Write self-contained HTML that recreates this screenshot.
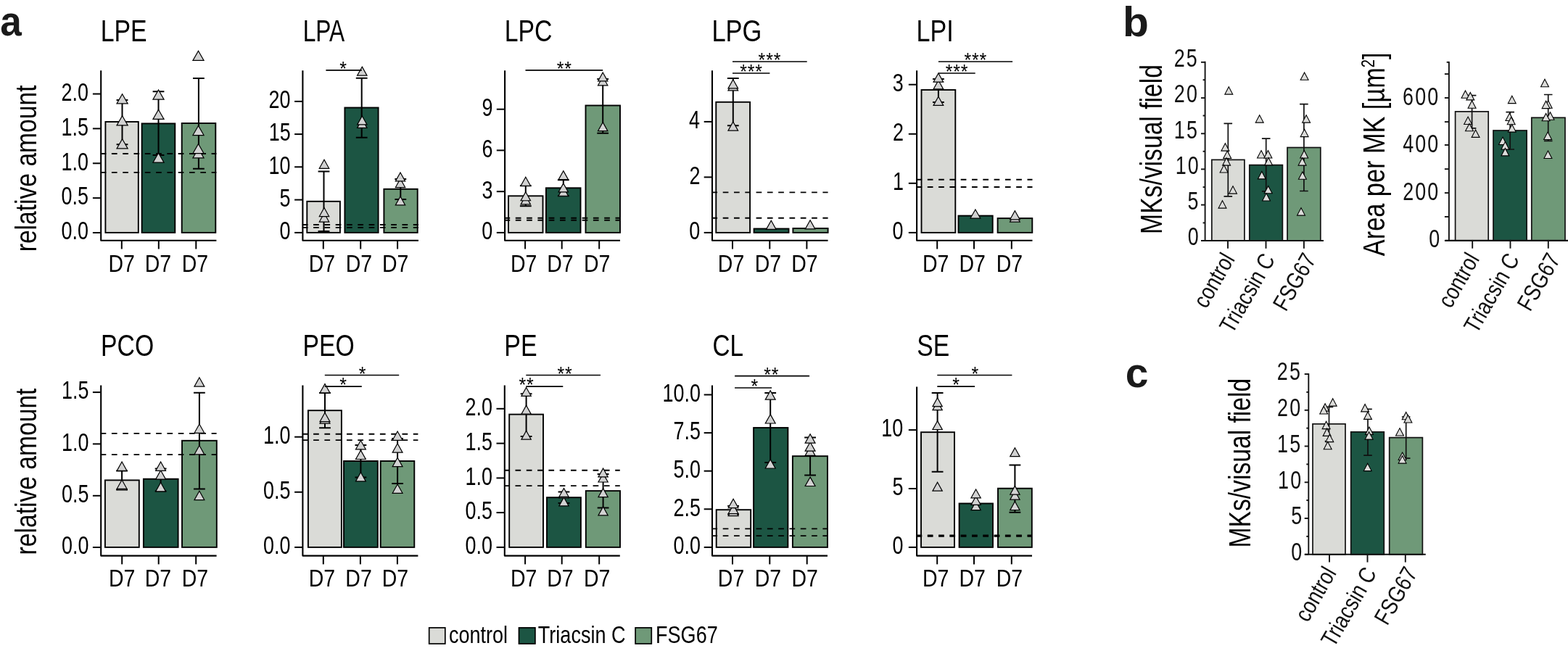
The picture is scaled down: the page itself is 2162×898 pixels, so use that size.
<!DOCTYPE html>
<html lang="en">
<head>
<meta charset="utf-8">
<title>Lipid classes and megakaryocyte counts</title>
<style>
html,body{margin:0;padding:0;background:#fff}
body{width:2162px;height:898px;overflow:hidden}
svg{display:block}
svg text{font-family:"Liberation Sans",sans-serif;stroke:none}
.t{fill:#d2d2d2;stroke:#000;stroke-width:1.2;stroke-linejoin:miter}
.s{fill:#dcdcda;stroke:#000;stroke-width:1.1;stroke-linejoin:miter}
</style>
</head>
<body>
<svg width="2162" height="898" viewBox="0 0 2162 898" stroke="#000" fill="#000">
<g>
<rect x="145.4" y="168" width="45.4" height="152.9" fill="#dadbd7" stroke-width="1.9"/>
<rect x="195.6" y="170.4" width="45.7" height="150.5" fill="#1c5543" stroke-width="1.9"/>
<rect x="250.7" y="170" width="46.6" height="150.9" fill="#6f9978" stroke-width="1.9"/>
<line x1="138.6" y1="212" x2="298.4" y2="212" stroke-width="1.9" stroke-dasharray="7.7 7.6"/>
<line x1="138.6" y1="237.9" x2="298.4" y2="237.9" stroke-width="1.9" stroke-dasharray="7.7 7.6"/>
<path d="M139.2 97.3V331.7H298.4" stroke-width="2.1" fill="none" stroke-linejoin="round"/>
<line x1="127.9" y1="129.55" x2="139.2" y2="129.55" stroke-width="2"/>
<text transform="translate(120.9 138.85) translate(-36.38 0) scale(0.757 1)" font-size="35.6">2.0</text>
<line x1="127.9" y1="177.4" x2="139.2" y2="177.4" stroke-width="2"/>
<text transform="translate(120.9 186.7) translate(-36.38 0) scale(0.757 1)" font-size="35.6">1.5</text>
<line x1="127.9" y1="225.3" x2="139.2" y2="225.3" stroke-width="2"/>
<text transform="translate(120.9 234.6) translate(-36.38 0) scale(0.757 1)" font-size="35.6">1.0</text>
<line x1="127.9" y1="273.15" x2="139.2" y2="273.15" stroke-width="2"/>
<text transform="translate(120.9 282.45) translate(-36.38 0) scale(0.757 1)" font-size="35.6">0.5</text>
<line x1="127.9" y1="321" x2="139.2" y2="321" stroke-width="2"/>
<text transform="translate(120.9 330.3) translate(-36.38 0) scale(0.757 1)" font-size="35.6">0.0</text>
<line x1="167.8" y1="331.7" x2="167.8" y2="343.5" stroke-width="2"/>
<text transform="translate(168.2 374.8) translate(-18.65 0) scale(0.855 1)" font-size="33.3">D7</text>
<line x1="218.8" y1="331.7" x2="218.8" y2="343.5" stroke-width="2"/>
<text transform="translate(218.4 374.8) translate(-18.65 0) scale(0.855 1)" font-size="33.3">D7</text>
<line x1="270.3" y1="331.7" x2="270.3" y2="343.5" stroke-width="2"/>
<text transform="translate(269.4 374.8) translate(-18.65 0) scale(0.855 1)" font-size="33.3">D7</text>
<path d="M160.6 138H176.4M168.5 138V199.2M160.6 199.2H176.4" stroke-width="2" fill="none"/>
<path d="M210.6 126.3H226.4M218.5 126.3V214M210.6 214H226.4" stroke-width="2" fill="none"/>
<path d="M266 108H281.8M273.9 108V232.7M266 232.7H281.8" stroke-width="2" fill="none"/>
<path d="M218.5 211L226.07 224.12L210.93 224.12Z" class="t"/>
<path d="M273.5 204.8L281.07 217.93L265.93 217.93Z" class="t"/>
<path d="M273.5 198.5L281.07 211.62L265.93 211.62Z" class="t"/>
<path d="M168.6 191.8L176.17 204.93L161.03 204.93Z" class="t"/>
<path d="M273.5 173.4L281.07 186.53L265.93 186.53Z" class="t"/>
<path d="M168.6 159.7L176.17 172.83L161.03 172.83Z" class="t"/>
<path d="M218.5 151.3L226.07 164.43L210.93 164.43Z" class="t"/>
<path d="M168.6 129.8L176.17 142.93L161.03 142.93Z" class="t"/>
<path d="M218.5 124L226.07 137.12L210.93 137.12Z" class="t"/>
<path d="M273.5 70.2L281.07 83.33L265.93 83.33Z" class="t"/>
<text transform="translate(141.4 57.3) translate(-2.71 0) scale(0.787 1)" font-size="43">LPE</text>
</g>
<g>
<rect x="423.3" y="277.8" width="45.6" height="43.1" fill="#dadbd7" stroke-width="1.9"/>
<rect x="475.4" y="148.5" width="46.2" height="172.4" fill="#1c5543" stroke-width="1.9"/>
<rect x="529.4" y="260.8" width="46.3" height="60.1" fill="#6f9978" stroke-width="1.9"/>
<line x1="416.8" y1="310" x2="577" y2="310" stroke-width="1.9" stroke-dasharray="7.7 7.6"/>
<line x1="416.8" y1="313.9" x2="577" y2="313.9" stroke-width="1.9" stroke-dasharray="7.7 7.6"/>
<path d="M417.4 97.3V331.7H577" stroke-width="2.1" fill="none" stroke-linejoin="round"/>
<line x1="406.1" y1="139.9" x2="417.4" y2="139.9" stroke-width="2"/>
<text transform="translate(399.5 149.2) translate(-28.97 0) scale(0.757 1)" font-size="35.6">20</text>
<line x1="406.1" y1="185.1" x2="417.4" y2="185.1" stroke-width="2"/>
<text transform="translate(399.5 194.4) translate(-28.84 0) scale(0.757 1)" font-size="35.6">15</text>
<line x1="406.1" y1="230.3" x2="417.4" y2="230.3" stroke-width="2"/>
<text transform="translate(399.5 239.6) translate(-28.97 0) scale(0.757 1)" font-size="35.6">10</text>
<line x1="406.1" y1="275.6" x2="417.4" y2="275.6" stroke-width="2"/>
<text transform="translate(399.5 284.9) translate(-13.88 0) scale(0.757 1)" font-size="35.6">5</text>
<line x1="406.1" y1="320.9" x2="417.4" y2="320.9" stroke-width="2"/>
<text transform="translate(399.5 330.2) translate(-13.88 0) scale(0.757 1)" font-size="35.6">0</text>
<line x1="445.8" y1="331.7" x2="445.8" y2="343.5" stroke-width="2"/>
<text transform="translate(444.3 374.8) translate(-18.65 0) scale(0.855 1)" font-size="33.3">D7</text>
<line x1="497.2" y1="331.7" x2="497.2" y2="343.5" stroke-width="2"/>
<text transform="translate(495.3 374.8) translate(-18.65 0) scale(0.855 1)" font-size="33.3">D7</text>
<line x1="548.1" y1="331.7" x2="548.1" y2="343.5" stroke-width="2"/>
<text transform="translate(545.6 374.8) translate(-18.65 0) scale(0.855 1)" font-size="33.3">D7</text>
<path d="M438.6 236.5H454.4M446.5 236.5V319M438.6 319H454.4" stroke-width="2" fill="none"/>
<path d="M490.8 107.8H506.6M498.7 107.8V189.7M490.8 189.7H506.6" stroke-width="2" fill="none"/>
<path d="M544.4 247H560.2M552.3 247V275M544.4 275H560.2" stroke-width="2" fill="none"/>
<path d="M447 294.03L453.69 306.03L440.31 306.03Z" class="t"/>
<path d="M447 286.53L453.69 298.53L440.31 298.53Z" class="t"/>
<path d="M552 270.93L558.69 282.93L545.31 282.93Z" class="t"/>
<path d="M552 246.53L558.69 258.53L545.31 258.53Z" class="t"/>
<path d="M552 237.93L558.69 249.93L545.31 249.93Z" class="t"/>
<path d="M447 220.33L453.69 232.33L440.31 232.33Z" class="t"/>
<path d="M499.3 164.43L505.99 176.43L492.61 176.43Z" class="t"/>
<path d="M499.3 159.93L505.99 171.93L492.61 171.93Z" class="t"/>
<path d="M499.3 92.13L505.99 104.12L492.61 104.12Z" class="t"/>
<line x1="449.4" y1="96.9" x2="498.8" y2="96.9" stroke-width="1.7"/>
<text transform="translate(473.2 104) translate(-4.83 0) scale(0.93 1)" font-size="27" letter-spacing="0.8">*</text>
<text transform="translate(420.2 57.3) translate(-2.54 0) scale(0.738 1)" font-size="43">LPA</text>
</g>
<g>
<rect x="701" y="270.3" width="47.5" height="50.6" fill="#dadbd7" stroke-width="1.9"/>
<rect x="752.9" y="259.3" width="47.6" height="61.6" fill="#1c5543" stroke-width="1.9"/>
<rect x="807.5" y="145.5" width="47.5" height="175.4" fill="#6f9978" stroke-width="1.9"/>
<line x1="695.5" y1="300.8" x2="855" y2="300.8" stroke-width="1.9" stroke-dasharray="7.7 7.6"/>
<line x1="695.5" y1="303.8" x2="855" y2="303.8" stroke-width="1.9" stroke-dasharray="7.7 7.6"/>
<path d="M696.1 97.3V331.7H855" stroke-width="2.1" fill="none" stroke-linejoin="round"/>
<line x1="684.8" y1="150.7" x2="696.1" y2="150.7" stroke-width="2"/>
<text transform="translate(678.2 160) translate(-13.74 0) scale(0.757 1)" font-size="35.6">9</text>
<line x1="684.8" y1="207.4" x2="696.1" y2="207.4" stroke-width="2"/>
<text transform="translate(678.2 216.7) translate(-13.74 0) scale(0.757 1)" font-size="35.6">6</text>
<line x1="684.8" y1="264.2" x2="696.1" y2="264.2" stroke-width="2"/>
<text transform="translate(678.2 273.5) translate(-13.74 0) scale(0.757 1)" font-size="35.6">3</text>
<line x1="684.8" y1="320.9" x2="696.1" y2="320.9" stroke-width="2"/>
<text transform="translate(678.2 330.2) translate(-13.88 0) scale(0.757 1)" font-size="35.6">0</text>
<line x1="724.1" y1="331.7" x2="724.1" y2="343.5" stroke-width="2"/>
<text transform="translate(722.6 374.8) translate(-18.65 0) scale(0.855 1)" font-size="33.3">D7</text>
<line x1="774.7" y1="331.7" x2="774.7" y2="343.5" stroke-width="2"/>
<text transform="translate(772.8 374.8) translate(-18.65 0) scale(0.855 1)" font-size="33.3">D7</text>
<line x1="826.2" y1="331.7" x2="826.2" y2="343.5" stroke-width="2"/>
<text transform="translate(823.7 374.8) translate(-18.65 0) scale(0.855 1)" font-size="33.3">D7</text>
<path d="M716.9 256.3H732.7M724.8 256.3V284.3M716.9 284.3H732.7" stroke-width="2" fill="none"/>
<path d="M768.9 248.3H784.7M776.8 248.3V270.3M768.9 270.3H784.7" stroke-width="2" fill="none"/>
<path d="M823.3 108.9H839.1M831.2 108.9V183.8M823.3 183.8H839.1" stroke-width="2" fill="none"/>
<path d="M724.8 269.93L731.49 281.93L718.11 281.93Z" class="t"/>
<path d="M724.8 264.73L731.49 276.73L718.11 276.73Z" class="t"/>
<path d="M776.8 258.23L783.49 270.23L770.11 270.23Z" class="t"/>
<path d="M776.8 252.93L783.49 264.93L770.11 264.93Z" class="t"/>
<path d="M724.8 244.23L731.49 256.23L718.11 256.23Z" class="t"/>
<path d="M776.8 235.63L783.49 247.62L770.11 247.62Z" class="t"/>
<path d="M831.2 168.63L837.89 180.62L824.51 180.62Z" class="t"/>
<path d="M831.2 105.83L837.89 117.83L824.51 117.83Z" class="t"/>
<path d="M831.2 99.93L837.89 111.92L824.51 111.92Z" class="t"/>
<line x1="724.5" y1="96.9" x2="831.2" y2="96.9" stroke-width="1.7"/>
<text transform="translate(777.8 104) translate(-10.11 0) scale(0.93 1)" font-size="27" letter-spacing="0.8">**</text>
<text transform="translate(698.4 57.3) translate(-2.7 0) scale(0.786 1)" font-size="43">LPC</text>
</g>
<g>
<rect x="987.3" y="140.8" width="46.8" height="180.1" fill="#dadbd7" stroke-width="1.9"/>
<rect x="1039.6" y="315.5" width="47.9" height="5.4" fill="#1c5543" stroke-width="1.9"/>
<rect x="1093.4" y="315" width="48.2" height="5.9" fill="#6f9978" stroke-width="1.9"/>
<line x1="981.4" y1="265.4" x2="1141.6" y2="265.4" stroke-width="1.9" stroke-dasharray="7.7 7.6"/>
<line x1="981.4" y1="300.7" x2="1141.6" y2="300.7" stroke-width="1.9" stroke-dasharray="7.7 7.6"/>
<path d="M982 97.3V331.7H1141.6" stroke-width="2.1" fill="none" stroke-linejoin="round"/>
<line x1="970.7" y1="167.9" x2="982" y2="167.9" stroke-width="2"/>
<text transform="translate(964.1 177.2) translate(-14.15 0) scale(0.757 1)" font-size="35.6">4</text>
<line x1="970.7" y1="244.4" x2="982" y2="244.4" stroke-width="2"/>
<text transform="translate(964.1 253.7) translate(-13.61 0) scale(0.757 1)" font-size="35.6">2</text>
<line x1="970.7" y1="320.9" x2="982" y2="320.9" stroke-width="2"/>
<text transform="translate(964.1 330.2) translate(-13.88 0) scale(0.757 1)" font-size="35.6">0</text>
<line x1="1010" y1="331.7" x2="1010" y2="343.5" stroke-width="2"/>
<text transform="translate(1008.5 374.8) translate(-18.65 0) scale(0.855 1)" font-size="33.3">D7</text>
<line x1="1061.3" y1="331.7" x2="1061.3" y2="343.5" stroke-width="2"/>
<text transform="translate(1059.4 374.8) translate(-18.65 0) scale(0.855 1)" font-size="33.3">D7</text>
<line x1="1112.4" y1="331.7" x2="1112.4" y2="343.5" stroke-width="2"/>
<text transform="translate(1109.9 374.8) translate(-18.65 0) scale(0.855 1)" font-size="33.3">D7</text>
<path d="M1002.9 108.1H1018.7M1010.8 108.1V173.3M1002.9 173.3H1018.7" stroke-width="2" fill="none"/>
<path d="M1063.3 304.32L1070.13 316.43L1056.47 316.43Z" class="t"/>
<path d="M1117.1 303.82L1123.93 315.93L1110.27 315.93Z" class="t"/>
<path d="M1010.8 168.02L1017.63 180.12L1003.97 180.12Z" class="t"/>
<path d="M1010.8 112.82L1017.63 124.92L1003.97 124.92Z" class="t"/>
<path d="M1010.8 109.82L1017.63 121.92L1003.97 121.92Z" class="t"/>
<line x1="1010" y1="85" x2="1112.7" y2="85" stroke-width="1.7"/>
<text transform="translate(1061 92.1) translate(-15.38 0) scale(0.93 1)" font-size="27" letter-spacing="0.8">***</text>
<line x1="1010" y1="101" x2="1061.4" y2="101" stroke-width="1.7"/>
<text transform="translate(1035.6 108.1) translate(-15.38 0) scale(0.93 1)" font-size="27" letter-spacing="0.8">***</text>
<text transform="translate(984.2 57.3) translate(-2.76 0) scale(0.802 1)" font-size="43">LPG</text>
</g>
<g>
<rect x="1270.5" y="124" width="46.8" height="196.9" fill="#dadbd7" stroke-width="1.9"/>
<rect x="1321.5" y="297.6" width="47.2" height="23.3" fill="#1c5543" stroke-width="1.9"/>
<rect x="1375.6" y="301.1" width="47.7" height="19.8" fill="#6f9978" stroke-width="1.9"/>
<line x1="1263.5" y1="247.7" x2="1423.5" y2="247.7" stroke-width="1.9" stroke-dasharray="7.7 7.6"/>
<line x1="1263.5" y1="258" x2="1423.5" y2="258" stroke-width="1.9" stroke-dasharray="7.7 7.6"/>
<path d="M1264.1 97.3V331.7H1423.5" stroke-width="2.1" fill="none" stroke-linejoin="round"/>
<line x1="1252.8" y1="116.7" x2="1264.1" y2="116.7" stroke-width="2"/>
<text transform="translate(1244.5 126) translate(-13.74 0) scale(0.757 1)" font-size="35.6">3</text>
<line x1="1252.8" y1="184.8" x2="1264.1" y2="184.8" stroke-width="2"/>
<text transform="translate(1244.5 194.1) translate(-13.61 0) scale(0.757 1)" font-size="35.6">2</text>
<line x1="1252.8" y1="252.8" x2="1264.1" y2="252.8" stroke-width="2"/>
<text transform="translate(1244.5 262.1) translate(-13.61 0) scale(0.757 1)" font-size="35.6">1</text>
<line x1="1252.8" y1="320.9" x2="1264.1" y2="320.9" stroke-width="2"/>
<text transform="translate(1244.5 330.2) translate(-13.88 0) scale(0.757 1)" font-size="35.6">0</text>
<line x1="1292.2" y1="331.7" x2="1292.2" y2="343.5" stroke-width="2"/>
<text transform="translate(1290.7 374.8) translate(-18.65 0) scale(0.855 1)" font-size="33.3">D7</text>
<line x1="1343" y1="331.7" x2="1343" y2="343.5" stroke-width="2"/>
<text transform="translate(1341.1 374.8) translate(-18.65 0) scale(0.855 1)" font-size="33.3">D7</text>
<line x1="1394.8" y1="331.7" x2="1394.8" y2="343.5" stroke-width="2"/>
<text transform="translate(1392.3 374.8) translate(-18.65 0) scale(0.855 1)" font-size="33.3">D7</text>
<path d="M1286 108.9H1301.8M1293.9 108.9V141M1286 141H1301.8" stroke-width="2" fill="none"/>
<path d="M1399.4 293.92L1406.23 306.03L1392.57 306.03Z" class="t"/>
<path d="M1399.4 290.82L1406.23 302.93L1392.57 302.93Z" class="t"/>
<path d="M1344.9 288.92L1351.73 301.03L1338.07 301.03Z" class="t"/>
<path d="M1293.9 133.32L1300.73 145.43L1287.07 145.43Z" class="t"/>
<path d="M1293.9 110.82L1300.73 122.92L1287.07 122.92Z" class="t"/>
<path d="M1293.9 101.02L1300.73 113.12L1287.07 113.12Z" class="t"/>
<line x1="1293.9" y1="85" x2="1396.1" y2="85" stroke-width="1.7"/>
<text transform="translate(1344.9 92.1) translate(-15.38 0) scale(0.93 1)" font-size="27" letter-spacing="0.8">***</text>
<line x1="1293.9" y1="101" x2="1344.7" y2="101" stroke-width="1.7"/>
<text transform="translate(1319.1 108.1) translate(-15.38 0) scale(0.93 1)" font-size="27" letter-spacing="0.8">***</text>
<text transform="translate(1266.2 57.3) translate(-2.73 0) scale(0.793 1)" font-size="43">LPI</text>
</g>
<g>
<rect x="144.9" y="662.4" width="46.9" height="92.5" fill="#dadbd7" stroke-width="1.9"/>
<rect x="197.9" y="660.7" width="47.7" height="94.2" fill="#1c5543" stroke-width="1.9"/>
<rect x="251" y="607.8" width="47.8" height="147.1" fill="#6f9978" stroke-width="1.9"/>
<line x1="138.6" y1="597.9" x2="298.6" y2="597.9" stroke-width="1.9" stroke-dasharray="7.7 7.6"/>
<line x1="138.6" y1="627.1" x2="298.6" y2="627.1" stroke-width="1.9" stroke-dasharray="7.7 7.6"/>
<path d="M139.2 531.4V766.6H298.6" stroke-width="2.1" fill="none" stroke-linejoin="round"/>
<line x1="127.9" y1="541.1" x2="139.2" y2="541.1" stroke-width="2"/>
<text transform="translate(121.3 550.4) translate(-36.38 0) scale(0.757 1)" font-size="35.6">1.5</text>
<line x1="127.9" y1="612.4" x2="139.2" y2="612.4" stroke-width="2"/>
<text transform="translate(121.3 621.7) translate(-36.38 0) scale(0.757 1)" font-size="35.6">1.0</text>
<line x1="127.9" y1="683.8" x2="139.2" y2="683.8" stroke-width="2"/>
<text transform="translate(121.3 693.1) translate(-36.38 0) scale(0.757 1)" font-size="35.6">0.5</text>
<line x1="127.9" y1="755" x2="139.2" y2="755" stroke-width="2"/>
<text transform="translate(121.3 764.3) translate(-36.38 0) scale(0.757 1)" font-size="35.6">0.0</text>
<line x1="168.2" y1="766.6" x2="168.2" y2="778.4" stroke-width="2"/>
<text transform="translate(168.6 809.4) translate(-18.65 0) scale(0.855 1)" font-size="33.3">D7</text>
<line x1="218.7" y1="766.6" x2="218.7" y2="778.4" stroke-width="2"/>
<text transform="translate(218.3 809.4) translate(-18.65 0) scale(0.855 1)" font-size="33.3">D7</text>
<line x1="270.2" y1="766.6" x2="270.2" y2="778.4" stroke-width="2"/>
<text transform="translate(269.3 809.4) translate(-18.65 0) scale(0.855 1)" font-size="33.3">D7</text>
<path d="M160.2 649.6H176M168.1 649.6V675.2M160.2 675.2H176" stroke-width="2" fill="none"/>
<path d="M213.7 646.4H229.5M221.6 646.4V677.4M213.7 677.4H229.5" stroke-width="2" fill="none"/>
<path d="M267 541.8H282.8M274.9 541.8V674.4M267 674.4H282.8" stroke-width="2" fill="none"/>
<path d="M274.9 677.23L281.83 689.62L267.97 689.62Z" class="t"/>
<path d="M221.6 665.53L228.53 677.92L214.67 677.92Z" class="t"/>
<path d="M168.1 663.53L175.03 675.92L161.17 675.92Z" class="t"/>
<path d="M168.1 661.93L175.03 674.32L161.17 674.32Z" class="t"/>
<path d="M221.6 648.73L228.53 661.12L214.67 661.12Z" class="t"/>
<path d="M168.1 637.03L175.03 649.42L161.17 649.42Z" class="t"/>
<path d="M221.6 637.03L228.53 649.42L214.67 649.42Z" class="t"/>
<path d="M274.9 614.53L281.83 626.92L267.97 626.92Z" class="t"/>
<path d="M274.9 584.93L281.83 597.32L267.97 597.32Z" class="t"/>
<path d="M274.9 520.73L281.83 533.12L267.97 533.12Z" class="t"/>
<text transform="translate(141.8 491.2) translate(-2.7 0) scale(0.785 1)" font-size="43">PCO</text>
</g>
<g>
<rect x="424.9" y="566.2" width="46" height="188.7" fill="#dadbd7" stroke-width="1.9"/>
<rect x="474" y="636" width="46.8" height="118.9" fill="#1c5543" stroke-width="1.9"/>
<rect x="524.7" y="636" width="46.6" height="118.9" fill="#6f9978" stroke-width="1.9"/>
<line x1="416.8" y1="598.8" x2="576.4" y2="598.8" stroke-width="1.9" stroke-dasharray="7.7 7.6"/>
<line x1="416.8" y1="607.1" x2="576.4" y2="607.1" stroke-width="1.9" stroke-dasharray="7.7 7.6"/>
<path d="M417.4 531.4V766.6H576.4" stroke-width="2.1" fill="none" stroke-linejoin="round"/>
<line x1="406.1" y1="602.7" x2="417.4" y2="602.7" stroke-width="2"/>
<text transform="translate(399.5 612) translate(-36.38 0) scale(0.757 1)" font-size="35.6">1.0</text>
<line x1="406.1" y1="678.8" x2="417.4" y2="678.8" stroke-width="2"/>
<text transform="translate(399.5 688.1) translate(-36.38 0) scale(0.757 1)" font-size="35.6">0.5</text>
<line x1="406.1" y1="754.9" x2="417.4" y2="754.9" stroke-width="2"/>
<text transform="translate(399.5 764.2) translate(-36.38 0) scale(0.757 1)" font-size="35.6">0.0</text>
<line x1="445.8" y1="766.6" x2="445.8" y2="778.4" stroke-width="2"/>
<text transform="translate(444.3 809.4) translate(-18.65 0) scale(0.855 1)" font-size="33.3">D7</text>
<line x1="496.9" y1="766.6" x2="496.9" y2="778.4" stroke-width="2"/>
<text transform="translate(495 809.4) translate(-18.65 0) scale(0.855 1)" font-size="33.3">D7</text>
<line x1="547.9" y1="766.6" x2="547.9" y2="778.4" stroke-width="2"/>
<text transform="translate(545.4 809.4) translate(-18.65 0) scale(0.855 1)" font-size="33.3">D7</text>
<path d="M440.1 542.1H455.9M448 542.1V590.3M440.1 590.3H455.9" stroke-width="2" fill="none"/>
<path d="M489.5 614.1H505.3M497.4 614.1V658.6M489.5 658.6H505.3" stroke-width="2" fill="none"/>
<path d="M540.2 605.1H556M548.1 605.1V667.1M540.2 667.1H556" stroke-width="2" fill="none"/>
<path d="M548.1 667.93L555.03 680.32L541.17 680.32Z" class="t"/>
<path d="M497.4 651.53L504.33 663.92L490.47 663.92Z" class="t"/>
<path d="M548.1 631.23L555.03 643.62L541.17 643.62Z" class="t"/>
<path d="M497.4 621.13L504.33 633.52L490.47 633.52Z" class="t"/>
<path d="M548.1 611.83L555.03 624.22L541.17 624.22Z" class="t"/>
<path d="M497.4 607.43L504.33 619.82L490.47 619.82Z" class="t"/>
<path d="M548.1 594.93L555.03 607.32L541.17 607.32Z" class="t"/>
<path d="M448 571.83L454.93 584.22L441.07 584.22Z" class="t"/>
<path d="M448 569.23L454.93 581.62L441.07 581.62Z" class="t"/>
<path d="M448 529.53L454.93 541.92L441.07 541.92Z" class="t"/>
<line x1="447.8" y1="517.5" x2="550.2" y2="517.5" stroke-width="1.7"/>
<text transform="translate(499.6 524.6) translate(-4.83 0) scale(0.93 1)" font-size="27" letter-spacing="0.8">*</text>
<line x1="447.8" y1="533.1" x2="498.8" y2="533.1" stroke-width="1.7"/>
<text transform="translate(473.1 540.2) translate(-4.83 0) scale(0.93 1)" font-size="27" letter-spacing="0.8">*</text>
<text transform="translate(420.2 491.2) translate(-2.7 0) scale(0.785 1)" font-size="43">PEO</text>
</g>
<g>
<rect x="702.2" y="571.6" width="46.8" height="183.3" fill="#dadbd7" stroke-width="1.9"/>
<rect x="754" y="686.2" width="46.9" height="68.7" fill="#1c5543" stroke-width="1.9"/>
<rect x="807.8" y="677.1" width="47.2" height="77.8" fill="#6f9978" stroke-width="1.9"/>
<line x1="695.2" y1="648.7" x2="854.8" y2="648.7" stroke-width="1.9" stroke-dasharray="7.7 7.6"/>
<line x1="695.2" y1="670.1" x2="854.8" y2="670.1" stroke-width="1.9" stroke-dasharray="7.7 7.6"/>
<path d="M695.8 531.4V766.6H854.8" stroke-width="2.1" fill="none" stroke-linejoin="round"/>
<line x1="684.5" y1="563.8" x2="695.8" y2="563.8" stroke-width="2"/>
<text transform="translate(677.9 573.1) translate(-36.38 0) scale(0.757 1)" font-size="35.6">2.0</text>
<line x1="684.5" y1="611.6" x2="695.8" y2="611.6" stroke-width="2"/>
<text transform="translate(677.9 620.9) translate(-36.38 0) scale(0.757 1)" font-size="35.6">1.5</text>
<line x1="684.5" y1="659.4" x2="695.8" y2="659.4" stroke-width="2"/>
<text transform="translate(677.9 668.7) translate(-36.38 0) scale(0.757 1)" font-size="35.6">1.0</text>
<line x1="684.5" y1="707.1" x2="695.8" y2="707.1" stroke-width="2"/>
<text transform="translate(677.9 716.4) translate(-36.38 0) scale(0.757 1)" font-size="35.6">0.5</text>
<line x1="684.5" y1="754.9" x2="695.8" y2="754.9" stroke-width="2"/>
<text transform="translate(677.9 764.2) translate(-36.38 0) scale(0.757 1)" font-size="35.6">0.0</text>
<line x1="724.1" y1="766.6" x2="724.1" y2="778.4" stroke-width="2"/>
<text transform="translate(722.6 809.4) translate(-18.65 0) scale(0.855 1)" font-size="33.3">D7</text>
<line x1="774.7" y1="766.6" x2="774.7" y2="778.4" stroke-width="2"/>
<text transform="translate(772.8 809.4) translate(-18.65 0) scale(0.855 1)" font-size="33.3">D7</text>
<line x1="826.2" y1="766.6" x2="826.2" y2="778.4" stroke-width="2"/>
<text transform="translate(823.7 809.4) translate(-18.65 0) scale(0.855 1)" font-size="33.3">D7</text>
<path d="M717.7 543.2H733.5M725.6 543.2V602M717.7 602H733.5" stroke-width="2" fill="none"/>
<path d="M769.6 678.4H785.4M777.5 678.4V694M769.6 694H785.4" stroke-width="2" fill="none"/>
<path d="M823.7 653.9H839.5M831.6 653.9V700.6M823.7 700.6H839.5" stroke-width="2" fill="none"/>
<path d="M831.6 699.03L838.24 710.92L824.96 710.92Z" class="t"/>
<path d="M777.5 686.03L784.14 697.92L770.86 697.92Z" class="t"/>
<path d="M777.5 675.03L784.14 686.92L770.86 686.92Z" class="t"/>
<path d="M831.6 673.83L838.24 685.72L824.96 685.72Z" class="t"/>
<path d="M777.5 673.43L784.14 685.32L770.86 685.32Z" class="t"/>
<path d="M831.6 653.13L838.24 665.02L824.96 665.02Z" class="t"/>
<path d="M831.6 646.03L838.24 657.92L824.96 657.92Z" class="t"/>
<path d="M725.6 594.23L732.24 606.12L718.96 606.12Z" class="t"/>
<path d="M725.6 559.33L732.24 571.22L718.96 571.22Z" class="t"/>
<path d="M725.6 534.43L732.24 546.32L718.96 546.32Z" class="t"/>
<line x1="725.3" y1="517.5" x2="828" y2="517.5" stroke-width="1.7"/>
<text transform="translate(778.6 524.6) translate(-10.11 0) scale(0.93 1)" font-size="27" letter-spacing="0.8">**</text>
<line x1="725.3" y1="533.1" x2="776.3" y2="533.1" stroke-width="1.7"/>
<text transform="translate(725.6 540.2) translate(-10.11 0) scale(0.93 1)" font-size="27" letter-spacing="0.8">**</text>
<text transform="translate(698 491.2) translate(-2.72 0) scale(0.79 1)" font-size="43">PE</text>
</g>
<g>
<rect x="987.7" y="703.2" width="47.5" height="51.7" fill="#dadbd7" stroke-width="1.9"/>
<rect x="1039.1" y="590" width="47.3" height="164.9" fill="#1c5543" stroke-width="1.9"/>
<rect x="1092.9" y="629.2" width="48.1" height="125.7" fill="#6f9978" stroke-width="1.9"/>
<line x1="981.4" y1="729.4" x2="1141" y2="729.4" stroke-width="1.9" stroke-dasharray="7.7 7.6"/>
<line x1="981.4" y1="739.1" x2="1141" y2="739.1" stroke-width="1.9" stroke-dasharray="7.7 7.6"/>
<path d="M982 531.4V766.6H1141" stroke-width="2.1" fill="none" stroke-linejoin="round"/>
<line x1="970.7" y1="544.5" x2="982" y2="544.5" stroke-width="2"/>
<text transform="translate(964.8 553.8) translate(-51.34 0) scale(0.757 1)" font-size="35.6">10.0</text>
<line x1="970.7" y1="597.1" x2="982" y2="597.1" stroke-width="2"/>
<text transform="translate(964.8 606.4) translate(-36.38 0) scale(0.757 1)" font-size="35.6">7.5</text>
<line x1="970.7" y1="649.7" x2="982" y2="649.7" stroke-width="2"/>
<text transform="translate(964.8 659) translate(-36.38 0) scale(0.757 1)" font-size="35.6">5.0</text>
<line x1="970.7" y1="702.3" x2="982" y2="702.3" stroke-width="2"/>
<text transform="translate(964.8 711.6) translate(-36.38 0) scale(0.757 1)" font-size="35.6">2.5</text>
<line x1="970.7" y1="754.9" x2="982" y2="754.9" stroke-width="2"/>
<text transform="translate(964.8 764.2) translate(-36.38 0) scale(0.757 1)" font-size="35.6">0.0</text>
<line x1="1010" y1="766.6" x2="1010" y2="778.4" stroke-width="2"/>
<text transform="translate(1008.5 809.4) translate(-18.65 0) scale(0.855 1)" font-size="33.3">D7</text>
<line x1="1061.3" y1="766.6" x2="1061.3" y2="778.4" stroke-width="2"/>
<text transform="translate(1059.4 809.4) translate(-18.65 0) scale(0.855 1)" font-size="33.3">D7</text>
<line x1="1112.7" y1="766.6" x2="1112.7" y2="778.4" stroke-width="2"/>
<text transform="translate(1110.2 809.4) translate(-18.65 0) scale(0.855 1)" font-size="33.3">D7</text>
<path d="M1003.2 698H1019M1011.1 698V709.5M1003.2 709.5H1019" stroke-width="2" fill="none"/>
<path d="M1054.3 542H1070.1M1062.2 542V638.1M1054.3 638.1H1070.1" stroke-width="2" fill="none"/>
<path d="M1109.2 603.5H1125M1117.1 603.5V655.4M1109.2 655.4H1125" stroke-width="2" fill="none"/>
<path d="M1011.1 699.33L1018.03 711.72L1004.17 711.72Z" class="t"/>
<path d="M1011.1 696.23L1018.03 708.62L1004.17 708.62Z" class="t"/>
<path d="M1011.1 688.23L1018.03 700.62L1004.17 700.62Z" class="t"/>
<path d="M1117.1 658.13L1124.03 670.52L1110.17 670.52Z" class="t"/>
<path d="M1062.2 633.63L1069.13 646.02L1055.27 646.02Z" class="t"/>
<path d="M1117.1 616.03L1124.03 628.42L1110.17 628.42Z" class="t"/>
<path d="M1117.1 609.73L1124.03 622.12L1110.17 622.12Z" class="t"/>
<path d="M1117.1 598.83L1124.03 611.22L1110.17 611.22Z" class="t"/>
<path d="M1062.2 571.63L1069.13 584.02L1055.27 584.02Z" class="t"/>
<path d="M1062.2 538.83L1069.13 551.22L1055.27 551.22Z" class="t"/>
<line x1="1013.1" y1="518.6" x2="1116.1" y2="518.6" stroke-width="1.7"/>
<text transform="translate(1063.3 525.7) translate(-10.11 0) scale(0.93 1)" font-size="27" letter-spacing="0.8">**</text>
<line x1="1013.1" y1="535" x2="1064.1" y2="535" stroke-width="1.7"/>
<text transform="translate(1040.4 542.1) translate(-4.83 0) scale(0.93 1)" font-size="27" letter-spacing="0.8">*</text>
<text transform="translate(984.2 491.2) translate(-1.66 0) scale(0.773 1)" font-size="43">CL</text>
</g>
<g>
<rect x="1270" y="596.2" width="46" height="158.7" fill="#dadbd7" stroke-width="1.9"/>
<rect x="1322.6" y="694.5" width="46.4" height="60.4" fill="#1c5543" stroke-width="1.9"/>
<rect x="1376" y="673.7" width="46.8" height="81.2" fill="#6f9978" stroke-width="1.9"/>
<line x1="1263.5" y1="738.5" x2="1423" y2="738.5" stroke-width="1.9" stroke-dasharray="7.7 7.6"/>
<line x1="1263.5" y1="739.8" x2="1423" y2="739.8" stroke-width="1.9" stroke-dasharray="7.7 7.6"/>
<path d="M1264.1 533.5V766.6H1423" stroke-width="2.1" fill="none" stroke-linejoin="round"/>
<line x1="1252.8" y1="593.1" x2="1264.1" y2="593.1" stroke-width="2"/>
<text transform="translate(1244.3 602.4) translate(-28.97 0) scale(0.757 1)" font-size="35.6">10</text>
<line x1="1252.8" y1="674" x2="1264.1" y2="674" stroke-width="2"/>
<text transform="translate(1244.3 683.3) translate(-13.88 0) scale(0.757 1)" font-size="35.6">5</text>
<line x1="1252.8" y1="754.9" x2="1264.1" y2="754.9" stroke-width="2"/>
<text transform="translate(1244.3 764.2) translate(-13.88 0) scale(0.757 1)" font-size="35.6">0</text>
<line x1="1292.2" y1="766.6" x2="1292.2" y2="778.4" stroke-width="2"/>
<text transform="translate(1290.7 809.4) translate(-18.65 0) scale(0.855 1)" font-size="33.3">D7</text>
<line x1="1343" y1="766.6" x2="1343" y2="778.4" stroke-width="2"/>
<text transform="translate(1341.1 809.4) translate(-18.65 0) scale(0.855 1)" font-size="33.3">D7</text>
<line x1="1394.8" y1="766.6" x2="1394.8" y2="778.4" stroke-width="2"/>
<text transform="translate(1392.3 809.4) translate(-18.65 0) scale(0.855 1)" font-size="33.3">D7</text>
<path d="M1284.7 542H1300.5M1292.6 542V650.8M1284.7 650.8H1300.5" stroke-width="2" fill="none"/>
<path d="M1391.5 641.4H1407.3M1399.4 641.4V706.7M1391.5 706.7H1407.3" stroke-width="2" fill="none"/>
<path d="M1345.6 691.83L1352.24 703.72L1338.96 703.72Z" class="t"/>
<path d="M1399.4 691.83L1406.04 703.72L1392.76 703.72Z" class="t"/>
<path d="M1345.6 684.53L1352.24 696.42L1338.96 696.42Z" class="t"/>
<path d="M1399.4 677.33L1406.04 689.22L1392.76 689.22Z" class="t"/>
<path d="M1345.6 674.93L1352.24 686.82L1338.96 686.82Z" class="t"/>
<path d="M1399.4 670.33L1406.04 682.22L1392.76 682.22Z" class="t"/>
<path d="M1292.6 665.33L1299.24 677.22L1285.96 677.22Z" class="t"/>
<path d="M1399.4 617.73L1406.04 629.62L1392.76 629.62Z" class="t"/>
<path d="M1292.6 580.63L1299.24 592.52L1285.96 592.52Z" class="t"/>
<path d="M1292.6 553.73L1299.24 565.62L1285.96 565.62Z" class="t"/>
<path d="M1292.6 548.73L1299.24 560.62L1285.96 560.62Z" class="t"/>
<line x1="1292.3" y1="517.5" x2="1395.4" y2="517.5" stroke-width="1.7"/>
<text transform="translate(1344.4 524.6) translate(-4.83 0) scale(0.93 1)" font-size="27" letter-spacing="0.8">*</text>
<line x1="1292.3" y1="533.1" x2="1344.1" y2="533.1" stroke-width="1.7"/>
<text transform="translate(1318 540.2) translate(-4.83 0) scale(0.93 1)" font-size="27" letter-spacing="0.8">*</text>
<text transform="translate(1265.7 491.2) translate(-1.52 0) scale(0.784 1)" font-size="43">SE</text>
</g>
<text transform="translate(50.2 345.1) rotate(-90) translate(-2.19 0) scale(0.82 1)" font-size="41">relative amount</text>
<text transform="translate(50.2 763.2) rotate(-90) translate(-2.19 0) scale(0.82 1)" font-size="41">relative amount</text>
<text transform="translate(1.9 49.2) translate(-1.6 0) scale(0.925 1)" font-size="57.5" font-weight="bold" fill="#1a1a1a">a</text>
<text transform="translate(1551.9 49.6) translate(-3.82 0) scale(1.03 1)" font-size="57" font-weight="bold" fill="#1a1a1a">b</text>
<text transform="translate(1554.1 534.3) translate(-2.28 0) scale(1 1)" font-size="57" font-weight="bold" fill="#1a1a1a">c</text>
<rect x="591.7" y="865.9" width="22.1" height="22.1" fill="#dadbd7" stroke-width="1.7"/>
<text transform="translate(620.1 886.5) translate(-1.22 0) scale(0.82 1)" font-size="33">control</text>
<rect x="715.5" y="865.9" width="22.4" height="22.1" fill="#1c5543" stroke-width="1.7"/>
<text transform="translate(742.5 886.5) translate(-0.68 0) scale(0.82 1)" font-size="33">Triacsin C</text>
<rect x="876.1" y="865.9" width="22.2" height="22.1" fill="#6f9978" stroke-width="1.7"/>
<text transform="translate(906.2 886.5) translate(-2.16 0) scale(0.82 1)" font-size="33">FSG67</text>
<g stroke="#111">
<rect x="1670.8" y="220.4" width="45.1" height="111.6" fill="#dadbd7" stroke-width="1.7"/>
<rect x="1722.8" y="227.6" width="45.6" height="104.4" fill="#1c5543" stroke-width="1.7"/>
<rect x="1775" y="203.5" width="45.8" height="128.5" fill="#6f9978" stroke-width="1.7"/>
<path d="M1687.5 170.3H1699.1M1693.3 170.3V270.9M1687.5 270.9H1699.1" stroke-width="1.7" fill="none"/>
<path d="M1739.9 191.1H1751.5M1745.7 191.1V263.9M1739.9 263.9H1751.5" stroke-width="1.7" fill="none"/>
<path d="M1792.1 143.7H1803.7M1797.9 143.7V263.5M1792.1 263.5H1803.7" stroke-width="1.7" fill="none"/>
<line x1="1661.6" y1="84.7" x2="1661.6" y2="332" stroke-width="1.9"/>
<line x1="1656" y1="332" x2="1825" y2="332" stroke-width="2.1"/>
<line x1="1656" y1="85.8" x2="1661.6" y2="85.8" stroke-width="1.9"/>
<line x1="1656" y1="135.1" x2="1661.6" y2="135.1" stroke-width="1.9"/>
<line x1="1656" y1="184.3" x2="1661.6" y2="184.3" stroke-width="1.9"/>
<line x1="1656" y1="233.4" x2="1661.6" y2="233.4" stroke-width="1.9"/>
<line x1="1656" y1="282.6" x2="1661.6" y2="282.6" stroke-width="1.9"/>
<line x1="1656" y1="332" x2="1661.6" y2="332" stroke-width="1.9"/>
<line x1="1658.6" y1="110.2" x2="1661.6" y2="110.2" stroke-width="1.9"/>
<line x1="1658.6" y1="159.5" x2="1661.6" y2="159.5" stroke-width="1.9"/>
<line x1="1658.6" y1="208.8" x2="1661.6" y2="208.8" stroke-width="1.9"/>
<line x1="1658.6" y1="258.1" x2="1661.6" y2="258.1" stroke-width="1.9"/>
<line x1="1658.6" y1="307.4" x2="1661.6" y2="307.4" stroke-width="1.9"/>
<line x1="1693" y1="332" x2="1693" y2="342.8" stroke-width="1.9"/>
<line x1="1745.5" y1="332" x2="1745.5" y2="342.8" stroke-width="1.9"/>
<line x1="1797.9" y1="332" x2="1797.9" y2="342.8" stroke-width="1.9"/>
<path d="M1694.3 119.68L1699.75 130.1L1688.85 130.1Z" class="s"/>
<path d="M1689.4 197.68L1694.85 208.1L1683.95 208.1Z" class="s"/>
<path d="M1692.2 208.08L1697.65 218.5L1686.75 218.5Z" class="s"/>
<path d="M1691.1 217.68L1696.55 228.1L1685.65 228.1Z" class="s"/>
<path d="M1687.6 227.58L1693.05 238L1682.15 238Z" class="s"/>
<path d="M1700 256.68L1705.45 267.1L1694.55 267.1Z" class="s"/>
<path d="M1685.5 276.68L1690.95 287.1L1680.05 287.1Z" class="s"/>
<path d="M1736.7 158.68L1742.15 169.1L1731.25 169.1Z" class="s"/>
<path d="M1739 207.58L1744.45 218L1733.55 218Z" class="s"/>
<path d="M1748.4 207.58L1753.85 218L1742.95 218Z" class="s"/>
<path d="M1749.1 217.48L1754.55 227.9L1743.65 227.9Z" class="s"/>
<path d="M1739.8 236.48L1745.25 246.9L1734.35 246.9Z" class="s"/>
<path d="M1748.7 256.38L1754.15 266.8L1743.25 266.8Z" class="s"/>
<path d="M1746 266.58L1751.45 277L1740.55 277Z" class="s"/>
<path d="M1798.6 99.88L1804.05 110.3L1793.15 110.3Z" class="s"/>
<path d="M1801.1 158.68L1806.55 169.1L1795.65 169.1Z" class="s"/>
<path d="M1798.6 178.18L1804.05 188.6L1793.15 188.6Z" class="s"/>
<path d="M1798.2 207.58L1803.65 218L1792.75 218Z" class="s"/>
<path d="M1795.6 217.68L1801.05 228.1L1790.15 228.1Z" class="s"/>
<path d="M1795.9 236.88L1801.35 247.3L1790.45 247.3Z" class="s"/>
<path d="M1794 286.68L1799.45 297.1L1788.55 297.1Z" class="s"/>
</g>
<text transform="translate(1649.6 92.1) translate(-30.93 0) scale(0.762 1)" font-size="35.3" letter-spacing="2.8" fill="#111">25</text>
<text transform="translate(1649.8 141.4) translate(-30.93 0) scale(0.762 1)" font-size="35.3" letter-spacing="2.8" fill="#111">20</text>
<text transform="translate(1649.8 190.6) translate(-30.93 0) scale(0.762 1)" font-size="35.3" letter-spacing="2.8" fill="#111">15</text>
<text transform="translate(1651.7 239.7) translate(-30.93 0) scale(0.762 1)" font-size="35.3" letter-spacing="2.8" fill="#111">10</text>
<text transform="translate(1651.3 288.9) translate(-13.85 0) scale(0.762 1)" font-size="35.3" letter-spacing="2.8" fill="#111">5</text>
<text transform="translate(1651.7 338.3) translate(-13.85 0) scale(0.762 1)" font-size="35.3" letter-spacing="2.8" fill="#111">0</text>
<text transform="translate(1702.6 358.8) rotate(-60) translate(-78.68 0) scale(0.83 1)" font-size="32.3" fill="#111">control</text>
<text transform="translate(1758.5 358.8) rotate(-60) translate(-118.63 0) scale(0.83 1)" font-size="32.3" fill="#111">Triacsin C</text>
<text transform="translate(1814.7 358.8) rotate(-60) translate(-83.51 0) scale(0.83 1)" font-size="32.3" fill="#111">FSG67</text>
<text transform="translate(1601.5 320.2) rotate(-90) translate(-2.69 0) scale(0.796 1)" font-size="42.3">MKs/visual field</text>
<g stroke="#111">
<rect x="2006.6" y="153.9" width="45.6" height="178" fill="#dadbd7" stroke-width="1.7"/>
<rect x="2059" y="180" width="46.1" height="151.9" fill="#1c5543" stroke-width="1.7"/>
<rect x="2111.8" y="162.3" width="46.2" height="169.6" fill="#6f9978" stroke-width="1.7"/>
<path d="M2023.8 131.6H2035.4M2029.6 131.6V176.8M2023.8 176.8H2035.4" stroke-width="1.7" fill="none"/>
<path d="M2076.4 154.7H2088M2082.2 154.7V206M2076.4 206H2088" stroke-width="1.7" fill="none"/>
<path d="M2128.9 130.5H2140.5M2134.7 130.5V194.3M2128.9 194.3H2140.5" stroke-width="1.7" fill="none"/>
<line x1="1997.9" y1="84.9" x2="1997.9" y2="331.9" stroke-width="1.9"/>
<line x1="1992.5" y1="331.9" x2="2162" y2="331.9" stroke-width="2.1"/>
<line x1="1991.9" y1="135" x2="1997.9" y2="135" stroke-width="1.9"/>
<line x1="1991.9" y1="200" x2="1997.9" y2="200" stroke-width="1.9"/>
<line x1="1991.9" y1="266.1" x2="1997.9" y2="266.1" stroke-width="1.9"/>
<line x1="1991.9" y1="331.9" x2="1997.9" y2="331.9" stroke-width="1.9"/>
<line x1="1991.9" y1="102.1" x2="1997.9" y2="102.1" stroke-width="1.9"/>
<line x1="1991.9" y1="168.1" x2="1997.9" y2="168.1" stroke-width="1.9"/>
<line x1="1991.9" y1="233.2" x2="1997.9" y2="233.2" stroke-width="1.9"/>
<line x1="1991.9" y1="299" x2="1997.9" y2="299" stroke-width="1.9"/>
<line x1="1994.7" y1="85.8" x2="1997.9" y2="85.8" stroke-width="1.9"/>
<line x1="2030.2" y1="331.9" x2="2030.2" y2="342.7" stroke-width="1.9"/>
<line x1="2082.5" y1="331.9" x2="2082.5" y2="342.7" stroke-width="1.9"/>
<line x1="2134.8" y1="331.9" x2="2134.8" y2="342.7" stroke-width="1.9"/>
<path d="M2020.5 124.88L2025.95 135.3L2015.05 135.3Z" class="s"/>
<path d="M2027.3 127.48L2032.75 137.9L2021.85 137.9Z" class="s"/>
<path d="M2029.6 138.78L2035.05 149.2L2024.15 149.2Z" class="s"/>
<path d="M2024.1 161.08L2029.55 171.5L2018.65 171.5Z" class="s"/>
<path d="M2026 170.38L2031.45 180.8L2020.55 180.8Z" class="s"/>
<path d="M2034.6 178.98L2040.05 189.4L2029.15 189.4Z" class="s"/>
<path d="M2084.8 132.18L2090.25 142.6L2079.35 142.6Z" class="s"/>
<path d="M2081.4 156.08L2086.85 166.5L2075.95 166.5Z" class="s"/>
<path d="M2083.7 161.38L2089.15 171.8L2078.25 171.8Z" class="s"/>
<path d="M2084.8 171.68L2090.25 182.1L2079.35 182.1Z" class="s"/>
<path d="M2072 189.08L2077.45 199.5L2066.55 199.5Z" class="s"/>
<path d="M2075.4 195.58L2080.85 206L2069.95 206Z" class="s"/>
<path d="M2075.4 204.48L2080.85 214.9L2069.95 214.9Z" class="s"/>
<path d="M2130 109.28L2135.45 119.7L2124.55 119.7Z" class="s"/>
<path d="M2134.7 138.78L2140.15 149.2L2129.25 149.2Z" class="s"/>
<path d="M2131.6 139.18L2137.05 149.6L2126.15 149.6Z" class="s"/>
<path d="M2137.5 154.78L2142.95 165.2L2132.05 165.2Z" class="s"/>
<path d="M2131.6 156.38L2137.05 166.8L2126.15 166.8Z" class="s"/>
<path d="M2134.1 182.08L2139.55 192.5L2128.65 192.5Z" class="s"/>
<path d="M2134.4 208.08L2139.85 218.5L2128.95 218.5Z" class="s"/>
</g>
<text transform="translate(1982.2 144.5) translate(-48.15 0) scale(0.762 1)" font-size="35.3" letter-spacing="2.8" fill="#111">600</text>
<text transform="translate(1982.3 209.5) translate(-48.15 0) scale(0.762 1)" font-size="35.3" letter-spacing="2.8" fill="#111">400</text>
<text transform="translate(1982.3 275.6) translate(-48.15 0) scale(0.762 1)" font-size="35.3" letter-spacing="2.8" fill="#111">200</text>
<text transform="translate(1984.1 341.4) translate(-13.85 0) scale(0.762 1)" font-size="35.3" letter-spacing="2.8" fill="#111">0</text>
<text transform="translate(2039.8 358.7) rotate(-60) translate(-78.68 0) scale(0.83 1)" font-size="32.3" fill="#111">control</text>
<text transform="translate(2095.5 358.7) rotate(-60) translate(-118.63 0) scale(0.83 1)" font-size="32.3" fill="#111">Triacsin C</text>
<text transform="translate(2151.6 358.7) rotate(-60) translate(-83.51 0) scale(0.83 1)" font-size="32.3" fill="#111">FSG67</text>
<text transform="translate(1909 353) rotate(-90) translate(-0.17 0) scale(0.811 1)" font-size="42.3">Area per MK [µm<tspan font-size="25" dy="-14">2</tspan><tspan dy="14">]</tspan></text>
<g stroke="#111">
<rect x="1810" y="584.8" width="45" height="180" fill="#dadbd7" stroke-width="1.7"/>
<rect x="1862.7" y="595.8" width="45.6" height="169" fill="#1c5543" stroke-width="1.7"/>
<rect x="1915.7" y="603.6" width="45.7" height="161.2" fill="#6f9978" stroke-width="1.7"/>
<path d="M1826.7 561.3H1838.3M1832.5 561.3V608.6M1826.7 608.6H1838.3" stroke-width="1.7" fill="none"/>
<path d="M1880.2 564.4H1891.8M1886 564.4V628.2M1880.2 628.2H1891.8" stroke-width="1.7" fill="none"/>
<path d="M1932.9 575H1944.5M1938.7 575V632.1M1932.9 632.1H1944.5" stroke-width="1.7" fill="none"/>
<line x1="1804.3" y1="515.1" x2="1804.3" y2="764.8" stroke-width="1.9"/>
<line x1="1799" y1="764.8" x2="1965.8" y2="764.8" stroke-width="2.1"/>
<line x1="1798.7" y1="516" x2="1804.3" y2="516" stroke-width="1.9"/>
<line x1="1798.7" y1="565.8" x2="1804.3" y2="565.8" stroke-width="1.9"/>
<line x1="1798.7" y1="615.5" x2="1804.3" y2="615.5" stroke-width="1.9"/>
<line x1="1798.7" y1="665.3" x2="1804.3" y2="665.3" stroke-width="1.9"/>
<line x1="1798.7" y1="715" x2="1804.3" y2="715" stroke-width="1.9"/>
<line x1="1798.7" y1="764.8" x2="1804.3" y2="764.8" stroke-width="1.9"/>
<line x1="1801.3" y1="540.9" x2="1804.3" y2="540.9" stroke-width="1.9"/>
<line x1="1801.3" y1="590.6" x2="1804.3" y2="590.6" stroke-width="1.9"/>
<line x1="1801.3" y1="640.4" x2="1804.3" y2="640.4" stroke-width="1.9"/>
<line x1="1801.3" y1="690.1" x2="1804.3" y2="690.1" stroke-width="1.9"/>
<line x1="1801.3" y1="739.9" x2="1804.3" y2="739.9" stroke-width="1.9"/>
<line x1="1833" y1="764.8" x2="1833" y2="775.6" stroke-width="1.9"/>
<line x1="1885.5" y1="764.8" x2="1885.5" y2="775.6" stroke-width="1.9"/>
<line x1="1937.8" y1="764.8" x2="1937.8" y2="775.6" stroke-width="1.9"/>
<path d="M1837.7 549.68L1843.15 560.1L1832.25 560.1Z" class="s"/>
<path d="M1827.1 556.68L1832.55 567.1L1821.65 567.1Z" class="s"/>
<path d="M1825.2 560.58L1830.65 571L1819.75 571Z" class="s"/>
<path d="M1828.6 581.18L1834.05 591.6L1823.15 591.6Z" class="s"/>
<path d="M1829.6 590.98L1835.05 601.4L1824.15 601.4Z" class="s"/>
<path d="M1833.3 599.18L1838.75 609.6L1827.85 609.6Z" class="s"/>
<path d="M1830.7 609.28L1836.15 619.7L1825.25 619.7Z" class="s"/>
<path d="M1882.1 557.48L1887.55 567.9L1876.65 567.9Z" class="s"/>
<path d="M1886 567.98L1891.45 578.4L1880.55 578.4Z" class="s"/>
<path d="M1888 588.98L1893.45 599.4L1882.55 599.4Z" class="s"/>
<path d="M1887.6 595.68L1893.05 606.1L1882.15 606.1Z" class="s"/>
<path d="M1885.7 639.18L1891.15 649.6L1880.25 649.6Z" class="s"/>
<path d="M1938.7 568.38L1944.15 578.8L1933.25 578.8Z" class="s"/>
<path d="M1941.4 572.58L1946.85 583L1935.95 583Z" class="s"/>
<path d="M1930 590.58L1935.45 601L1924.55 601Z" class="s"/>
<path d="M1933.6 624.08L1939.05 634.5L1928.15 634.5Z" class="s"/>
<path d="M1933.6 628.68L1939.05 639.1L1928.15 639.1Z" class="s"/>
</g>
<text transform="translate(1791.8 524.4) translate(-30.93 0) scale(0.762 1)" font-size="35.3" letter-spacing="2.8" fill="#111">25</text>
<text transform="translate(1792 574.2) translate(-30.93 0) scale(0.762 1)" font-size="35.3" letter-spacing="2.8" fill="#111">20</text>
<text transform="translate(1792 623.9) translate(-30.93 0) scale(0.762 1)" font-size="35.3" letter-spacing="2.8" fill="#111">15</text>
<text transform="translate(1793 673.7) translate(-30.93 0) scale(0.762 1)" font-size="35.3" letter-spacing="2.8" fill="#111">10</text>
<text transform="translate(1794.1 723.4) translate(-13.85 0) scale(0.762 1)" font-size="35.3" letter-spacing="2.8" fill="#111">5</text>
<text transform="translate(1794.1 773.2) translate(-13.85 0) scale(0.762 1)" font-size="35.3" letter-spacing="2.8" fill="#111">0</text>
<text transform="translate(1842.6 791.6) rotate(-60) translate(-78.68 0) scale(0.83 1)" font-size="32.3" fill="#111">control</text>
<text transform="translate(1898.5 791.6) rotate(-60) translate(-118.63 0) scale(0.83 1)" font-size="32.3" fill="#111">Triacsin C</text>
<text transform="translate(1954.6 791.6) rotate(-60) translate(-83.51 0) scale(0.83 1)" font-size="32.3" fill="#111">FSG67</text>
<text transform="translate(1724.1 752.9) rotate(-90) translate(-2.69 0) scale(0.796 1)" font-size="42.3">MKs/visual field</text>
</svg>
</body>
</html>
